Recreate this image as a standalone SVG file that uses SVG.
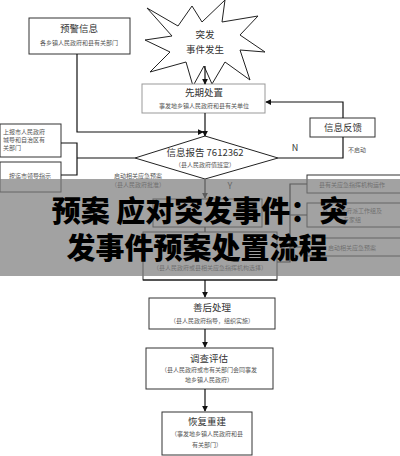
<svg xmlns="http://www.w3.org/2000/svg" width="400" height="456" viewBox="0 0 400 456">
<defs>
<marker id="ah" viewBox="0 0 8 8" refX="7" refY="4" markerWidth="5" markerHeight="5" orient="auto"><path d="M0,0 L8,4 L0,8 z" fill="#111"/></marker>
<style>
.bx{fill:#fff;stroke:#333;stroke-width:1}
.lb{fill:#fff;stroke:#999;stroke-width:1}
.ln{fill:none;stroke:#111;stroke-width:1.2}
.t{font-family:"Noto Sans CJK SC","Liberation Serif",serif;fill:#333;text-anchor:middle}
.h{font-size:9.5px}
.s{font-size:6px;fill:#555}
.big{font-family:"Noto Sans CJK SC","Liberation Sans",sans-serif;font-weight:900;font-size:29px;fill:#000;text-anchor:middle}
</style>
</defs>
<rect width="400" height="456" fill="#fff"/>
<g id="yujing"><rect class="bx" x="29" y="18" width="101" height="36"/><text class="t h" x="79" y="32">预警信息</text><text class="t s" x="79" y="45">各乡镇人民政府和县有关部门</text></g>
<g id="tufa"><polygon fill="#fff" stroke="#222" stroke-width="1" points="147,8 178,26 192,6 202,22 225,0 222,22 258,16 240,35 265,52 240,50 250,80 225,62 212,84 204,66 193,86 186,62 150,72 170,52 145,40 172,36"/><text class="t h" x="205" y="38">突发</text><text class="t h" x="205" y="53">事件发生</text></g>
<g id="xianqi"><rect class="lb" x="142" y="84" width="123" height="29"/><text class="t h" x="204" y="96">先期处置</text><text class="t s" x="204" y="108">事发地乡镇人民政府和县有关单位</text></g>
<g id="fankui"><rect class="bx" x="310" y="118" width="65" height="19" stroke="#777"/><text class="t h" x="343" y="131">信息反馈</text><text class="t s" x="357" y="152">不启动</text></g>
<g id="baogao"><polygon fill="#fff" stroke="#222" stroke-width="1" points="205,136 278,158 205,179 135,158"/><text class="t h" x="205" y="156">信息报告 7612362</text><text class="t s" x="205" y="167">（县人民政府值班室）</text></g>
<g id="shangbao"><rect class="bx" x="0" y="124" width="61" height="33" stroke="#555"/><text class="t s" x="3" y="134" style="text-anchor:start">上报市人民政府</text><text class="t s" x="3" y="142" style="text-anchor:start">城导和自治区有</text><text class="t s" x="3" y="150" style="text-anchor:start">关部门</text></g>
<g id="anzhao"><rect class="bx" x="0" y="162" width="61" height="30" stroke="#555"/><text class="t s" x="30" y="178">按迄市领导指示</text></g>
<g id="qidong"><text class="t s" x="138" y="178">启动相关应急预案</text><text class="t s" x="138" y="187">（县人民政府批准）</text></g>
<g id="mid1"><rect class="bx" x="153" y="199" width="109" height="28" stroke="#555"/></g>
<g id="mid2"><rect class="bx" x="143" y="232" width="134" height="48" stroke="#555"/><text class="t s" x="210" y="270">（县人民政府或县相关应急指挥机构选择）</text></g>
<g id="r1"><rect class="bx" x="307" y="175" width="95" height="18" stroke="#777"/><text class="t s" x="352" y="187">县有关应急指挥机构运作</text></g>
<g id="r2"><rect class="bx" x="307" y="203" width="95" height="24" stroke="#777"/><text class="t s" x="352" y="213">县人民政府派工作组及</text><text class="t s" x="352" y="222">专家组</text></g>
<g id="r3"><rect class="bx" x="307" y="238" width="95" height="18" stroke="#777"/><text class="t s" x="352" y="250">启动相关应急预案</text></g>
<g id="shanhou"><rect class="bx" x="149" y="298" width="126" height="31" stroke="#555"/><text class="t h" x="212" y="311">善后处理</text><text class="t s" x="212" y="323">（县人民政府指导，组织实施）</text></g>
<g id="diaocha"><rect class="bx" x="146" y="348" width="127" height="41" stroke="#555"/><text class="t h" x="209" y="362">调查评估</text><text class="t s" x="209" y="372">（县人民政府或市有关部门会同事发</text><text class="t s" x="209" y="382">地乡镇人民政府）</text></g>
<g id="huifu"><rect class="bx" x="162" y="412" width="90" height="43" stroke="#555"/><text class="t h" x="207" y="425">恢复重建</text><text class="t s" x="207" y="436">（事发地乡镇人民政府和县</text><text class="t s" x="207" y="447">有关部门）</text></g>
<g id="connectors">
<path class="ln" d="M205,66 V84" marker-end="url(#ah)"/>
<path class="ln" d="M205,113 V136" marker-end="url(#ah)"/>
<path class="ln" d="M77,54 V132 H203" marker-end="url(#ah)"/>
<path class="ln" d="M343,118 V102 H266" marker-end="url(#ah)"/>
<path class="ln" d="M343,137 V158 H278"/>
<path class="ln" d="M135,158 H77"/>
<path class="ln" d="M61,143 H77 V175 H61"/>
<path class="ln" d="M205,179 V198" marker-end="url(#ah)"/>
<path class="ln" d="M205,227 V232"/>
<path class="ln" d="M307,184 H290 V262 H277 M290,215 H307 M290,247 H307"/>
<path class="ln" d="M143,280 H277 M205,280 V297" marker-end="url(#ah)"/>
<path class="ln" d="M205,329 V347" marker-end="url(#ah)"/>
<path class="ln" d="M205,389 V411" marker-end="url(#ah)"/>
<text class="t" x="295" y="151" style="font-size:9px">N</text>
<text class="t" x="230" y="189" style="font-size:9px">Y</text>
</g>
<g id="banner"><rect x="0" y="179" width="400" height="97" fill="#7a7a7a" opacity="0.7"/><text class="big" x="200" y="222">预案 应对突发事件：突</text><text class="big" x="197" y="259">发事件预案处置流程</text></g>
</svg>
